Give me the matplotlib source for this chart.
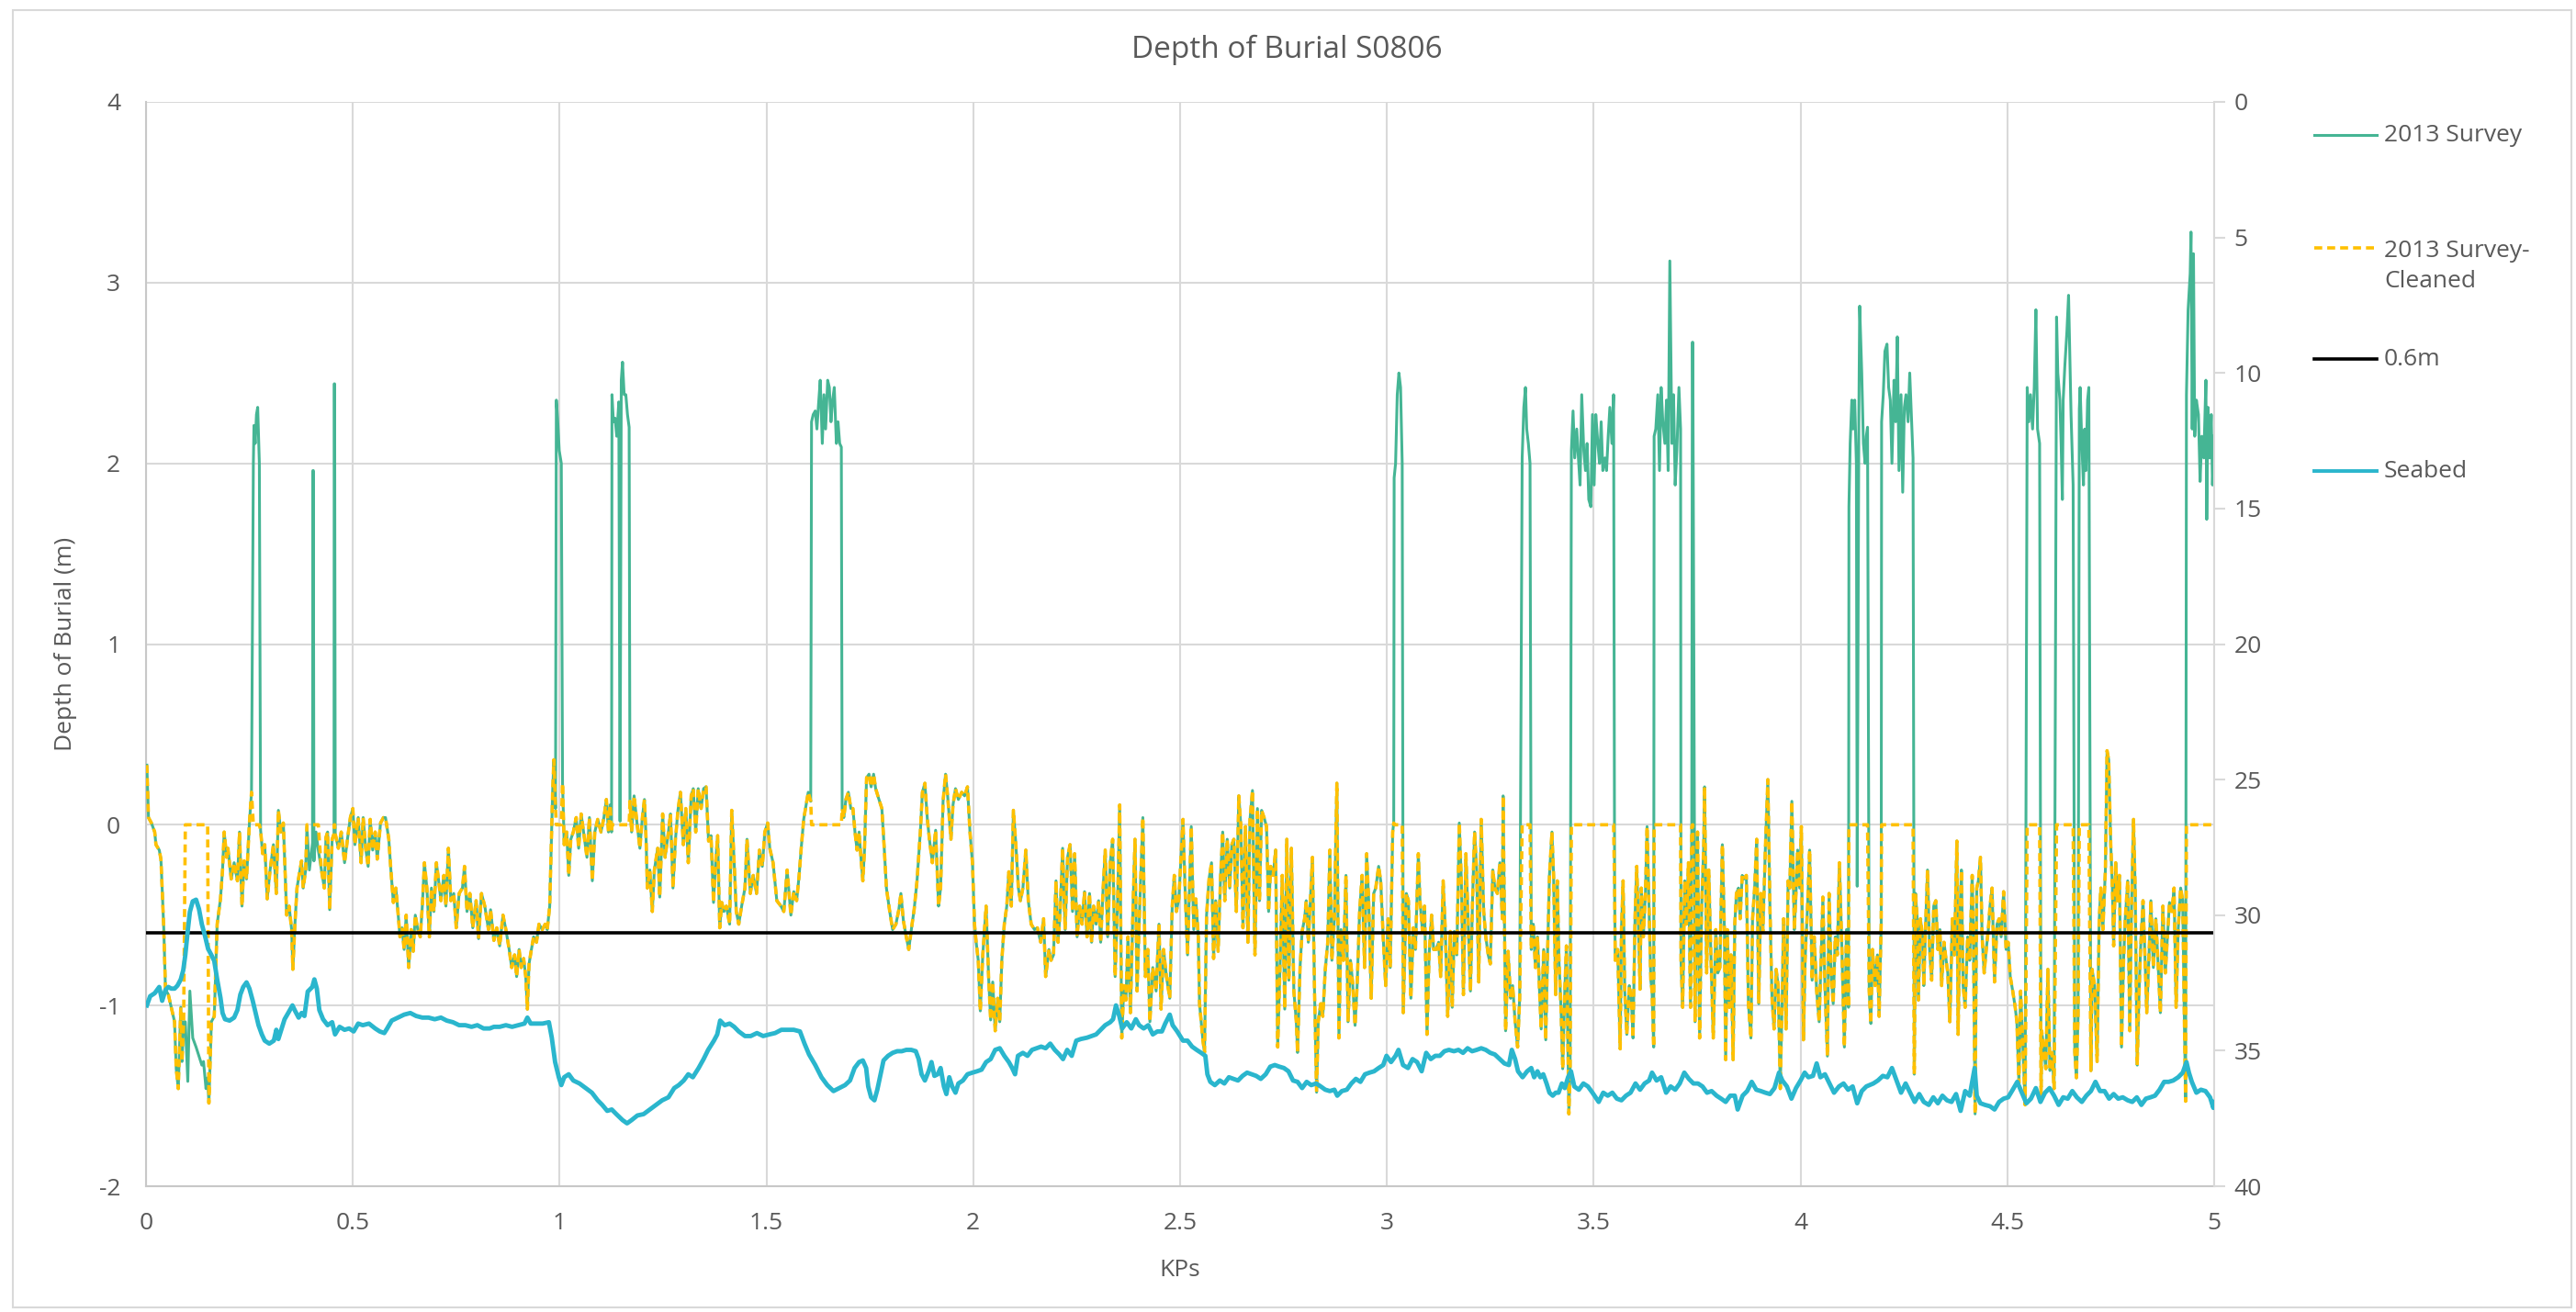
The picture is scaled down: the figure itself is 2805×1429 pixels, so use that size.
import numpy as np
import matplotlib.pyplot as plt
from matplotlib.lines import Line2D
from matplotlib.patches import Rectangle

plt.rcParams["font.family"] = ["Open Sans", "DejaVu Sans"]
plt.rcParams["axes.unicode_minus"] = False

TEXT = "#595959"
GRID = "#D9D9D9"
SURVEY = "#45B594"
CLEANED = "#FFC000"
SEABED = "#2AB6CD"

# depth of burial from the 2013 survey, (KP, m)
survey_km0 = [
    (0.002, 0.33), (0.006, 0.04), (0.013, 0.01), (0.021, -0.04), (0.024, -0.11), (0.032, -0.14),
    (0.036, -0.19), (0.039, -0.35), (0.043, -0.58), (0.047, -0.91), (0.054, -0.94), (0.061, -1.01),
    (0.069, -1.09), (0.073, -1.35), (0.078, -1.46), (0.084, -1.01), (0.087, -1.31), (0.091, -1.09),
    (0.095, -1.09), (0.101, -1.42), (0.106, -0.92), (0.113, -1.18), (0.121, -1.23), (0.128, -1.28),
    (0.135, -1.33), (0.139, -1.31), (0.145, -1.46), (0.149, -1.40), (0.152, -1.54), (0.158, -1.09),
    (0.165, -1.06), (0.172, -0.55), (0.180, -0.41), (0.185, -0.25), (0.189, -0.04), (0.195, -0.18),
    (0.198, -0.13), (0.206, -0.30), (0.213, -0.21), (0.221, -0.31), (0.226, -0.04), (0.232, -0.45),
    (0.237, -0.20), (0.243, -0.30), (0.250, 0.01), (0.255, 0.18),
    (0.2595, 2.00), (0.261, 2.21), (0.264, 2.11), (0.267, 2.27), (0.270, 2.31), (0.274, 2.00),
    (0.277, -0.03), (0.282, -0.16), (0.287, -0.11), (0.293, -0.41), (0.300, -0.25), (0.308, -0.11),
    (0.315, -0.38), (0.320, 0.08), (0.326, -0.04), (0.332, 0.01), (0.335, -0.18), (0.340, -0.50),
    (0.346, -0.45), (0.352, -0.58), (0.355, -0.80), (0.360, -0.55), (0.365, -0.35), (0.370, -0.28),
    (0.376, -0.20), (0.380, -0.35), (0.386, -0.25),
    (0.389, -0.01), (0.395, -0.25), (0.4025, -0.10), (0.4035, 1.96), (0.4045, 1.96), (0.406, -0.20),
    (0.411, -0.04), (0.4165, -0.14),
    (0.424, -0.25), (0.431, -0.35), (0.435, -0.07), (0.439, -0.04), (0.444, -0.47), (0.450, -0.08),
    (0.4545, -0.05), (0.455, 2.44), (0.456, 2.44), (0.4575, -0.05),
    (0.465, -0.13), (0.472, -0.04), (0.480, -0.21), (0.487, -0.08), (0.494, 0.04), (0.500, 0.09),
    (0.505, -0.11), (0.513, 0.04), (0.520, -0.21), (0.525, 0.04), (0.531, -0.13), (0.537, -0.23),
    (0.542, 0.03), (0.548, -0.14), (0.554, -0.04), (0.559, -0.19), (0.567, 0.01), (0.574, 0.04),
    (0.579, 0.04), (0.587, -0.08), (0.592, -0.25), (0.598, -0.43), (0.604, -0.35), (0.609, -0.48),
    (0.614, -0.62), (0.619, -0.57), (0.624, -0.69), (0.629, -0.50), (0.635, -0.79), (0.641, -0.58),
    (0.646, -0.70), (0.651, -0.50), (0.657, -0.58), (0.663, -0.62), (0.668, -0.45), (0.673, -0.21),
    (0.679, -0.35), (0.685, -0.62), (0.690, -0.35), (0.696, -0.48), (0.702, -0.21), (0.707, -0.30),
    (0.713, -0.42), (0.720, -0.28), (0.725, -0.45), (0.731, -0.13), (0.737, -0.42), (0.744, -0.38),
    (0.750, -0.57), (0.757, -0.38), (0.765, -0.35), (0.770, -0.23), (0.776, -0.48), (0.783, -0.38),
    (0.790, -0.57), (0.798, -0.42), (0.804, -0.63), (0.811, -0.38), (0.819, -0.45), (0.828, -0.58),
    (0.833, -0.47), (0.841, -0.64), (0.848, -0.57), (0.855, -0.67), (0.863, -0.50), (0.870, -0.58),
    (0.878, -0.69), (0.884, -0.79), (0.891, -0.72), (0.896, -0.84), (0.902, -0.69), (0.907, -0.79),
    (0.913, -0.74), (0.918, -0.84), (0.922, -1.02), (0.926, -0.77), (0.931, -0.70), (0.937, -0.62),
    (0.944, -0.65), (0.950, -0.55), (0.958, -0.58), (0.965, -0.55), (0.970, -0.58), (0.976, -0.45),
    (0.980, -0.08), (0.983, 0.18), (0.986, 0.36), (0.990, 0.09),
]
survey_km1 = [
    (0.992, 2.35), (0.995, 2.25), (0.999, 2.07), (1.004, 2.00),
    (1.007, 0.23), (1.011, -0.11), (1.017, -0.04), (1.022, -0.28), (1.027, -0.08), (1.033, -0.04),
    (1.040, 0.04), (1.046, -0.13), (1.052, 0.06), (1.059, -0.06), (1.066, -0.18), (1.072, 0.04),
    (1.079, -0.31), (1.085, -0.04), (1.092, 0.03), (1.100, -0.04), (1.107, 0.04), (1.113, 0.14),
    (1.118, -0.04), (1.122, 0.11), (1.1255, -0.04),
    (1.1265, 2.38), (1.130, 2.23), (1.134, 2.25), (1.138, 2.15), (1.143, 2.34), (1.146, 0.02),
    (1.149, 2.46), (1.152, 2.56), (1.156, 2.38), (1.160, 2.38), (1.164, 2.27), (1.168, 2.20),
    (1.170, 0.13), (1.174, -0.04), (1.180, 0.16), (1.187, 0.01), (1.194, -0.13), (1.200, 0.04),
    (1.205, 0.14), (1.209, -0.08), (1.212, -0.35), (1.218, -0.25), (1.224, -0.48), (1.229, -0.25),
    (1.237, -0.13), (1.242, -0.40), (1.249, 0.06), (1.255, -0.18), (1.263, -0.04), (1.268, 0.06),
    (1.274, -0.35), (1.280, -0.08), (1.286, 0.08), (1.292, 0.18), (1.299, -0.11), (1.305, 0.09),
    (1.311, -0.21), (1.318, 0.16), (1.323, 0.20), (1.329, -0.04), (1.335, 0.20), (1.342, 0.09),
    (1.348, 0.20), (1.354, 0.21), (1.360, -0.09), (1.366, -0.06), (1.372, -0.43), (1.377, -0.21),
    (1.382, -0.06), (1.387, -0.57), (1.392, -0.43), (1.397, -0.48), (1.403, -0.45), (1.411, -0.55),
    (1.416, 0.08), (1.422, -0.21), (1.427, -0.48), (1.433, -0.55), (1.440, -0.45), (1.448, -0.35),
    (1.453, -0.08), (1.461, -0.38), (1.468, -0.28), (1.476, -0.38), (1.483, -0.14), (1.490, -0.23),
    (1.496, -0.04), (1.503, 0.01), (1.508, -0.13), (1.516, -0.21), (1.525, -0.42), (1.535, -0.45),
    (1.542, -0.48), (1.550, -0.25), (1.559, -0.50), (1.566, -0.37), (1.573, -0.42), (1.579, -0.28),
    (1.584, -0.13), (1.590, 0.03), (1.596, 0.11), (1.601, 0.18), (1.607, 0.13),
    (1.609, 2.23), (1.613, 2.27), (1.618, 2.29), (1.622, 2.19), (1.626, 2.33), (1.630, 2.46),
    (1.635, 2.11), (1.639, 2.38), (1.643, 2.19), (1.648, 2.46), (1.652, 2.42), (1.656, 2.23),
    (1.660, 2.35), (1.664, 2.42), (1.669, 2.11), (1.673, 2.23), (1.677, 2.11), (1.681, 2.09),
    (1.683, 0.09), (1.687, 0.04), (1.692, 0.14), (1.698, 0.18), (1.704, 0.09), (1.709, 0.09),
    (1.714, -0.04), (1.719, -0.14), (1.724, -0.04), (1.729, -0.20), (1.733, -0.31), (1.737, -0.14),
    (1.742, 0.26), (1.748, 0.28), (1.753, 0.21), (1.759, 0.28), (1.764, 0.20), (1.772, 0.14),
    (1.779, 0.09), (1.785, -0.14), (1.790, -0.35), (1.798, -0.48), (1.805, -0.58), (1.813, -0.55),
    (1.820, -0.47), (1.825, -0.38), (1.831, -0.53), (1.838, -0.62), (1.844, -0.69), (1.852, -0.55),
    (1.857, -0.47), (1.864, -0.31), (1.872, -0.04), (1.877, 0.18), (1.883, 0.23), (1.889, 0.03),
    (1.894, -0.08), (1.901, -0.21), (1.909, -0.03), (1.916, -0.45), (1.921, -0.35), (1.927, 0.13),
    (1.933, 0.28), (1.938, 0.16), (1.946, -0.08), (1.951, 0.11), (1.957, 0.20), (1.964, 0.14),
    (1.972, 0.18), (1.979, 0.16), (1.986, 0.21), (1.992, -0.04), (1.998, -0.21),
]
survey_km2 = [
    (2.003, -0.55), (2.007, -0.65), (2.012, -0.75), (2.017, -1.03), (2.023, -0.72), (2.031, -0.45),
    (2.037, -0.84), (2.042, -1.08), (2.047, -0.87), (2.053, -1.14), (2.059, -0.96), (2.064, -1.09),
    (2.069, -0.75), (2.075, -0.55), (2.081, -0.45), (2.086, -0.26), (2.092, -0.45), (2.097, 0.08),
    (2.103, -0.11), (2.109, -0.35), (2.114, -0.42), (2.120, -0.35), (2.127, -0.14), (2.133, -0.42),
    (2.140, -0.55), (2.148, -0.58), (2.155, -0.57), (2.163, -0.65), (2.170, -0.52), (2.175, -0.84),
    (2.183, -0.69), (2.188, -0.75), (2.194, -0.72), (2.200, -0.31), (2.205, -0.65), (2.210, -0.48),
    (2.216, -0.13), (2.222, -0.58), (2.228, -0.18), (2.234, -0.11), (2.240, -0.48), (2.245, -0.16),
    (2.251, -0.62), (2.257, -0.45), (2.263, -0.55), (2.269, -0.37), (2.275, -0.62), (2.281, -0.38),
    (2.286, -0.65), (2.291, -0.45), (2.297, -0.55), (2.303, -0.42), (2.308, -0.65), (2.314, -0.35),
    (2.319, -0.14), (2.325, -0.62), (2.331, -0.21), (2.337, -0.08), (2.343, -0.84), (2.349, -0.42),
    (2.354, 0.11), (2.359, -1.18), (2.364, -0.89), (2.369, -0.97), (2.374, -0.62), (2.380, -1.04),
    (2.386, -0.47), (2.391, -0.08), (2.396, -0.92), (2.402, -0.48), (2.410, 0.04), (2.416, -0.84),
    (2.422, -0.69), (2.427, -1.09), (2.434, -0.79), (2.442, -0.92), (2.449, -0.55), (2.454, -1.02),
    (2.460, -0.69), (2.467, -0.84), (2.475, -0.96), (2.481, -0.45), (2.486, -0.28), (2.491, -0.48),
    (2.497, -0.41), (2.507, 0.03), (2.512, -0.35), (2.518, -0.72), (2.524, -0.25), (2.527, -0.01),
    (2.533, -0.58), (2.538, -0.41), (2.544, -0.62), (2.547, -0.99), (2.555, -1.19), (2.559, -1.26),
    (2.564, -0.50), (2.570, -0.30), (2.576, -0.21), (2.581, -0.74), (2.586, -0.42), (2.592, -0.70),
    (2.598, -0.28), (2.603, -0.04), (2.608, -0.42), (2.614, -0.08), (2.620, -0.35), (2.625, -0.11),
    (2.630, -0.08), (2.636, -0.48), (2.642, 0.16), (2.647, -0.01), (2.652, -0.57), (2.658, -0.01),
    (2.664, -0.65), (2.669, 0.03), (2.675, 0.19), (2.681, -0.72), (2.687, 0.09), (2.692, -0.42),
    (2.697, 0.08), (2.703, 0.04), (2.709, -0.01), (2.714, -0.48), (2.719, -0.23), (2.725, -0.28),
    (2.731, -0.14), (2.736, -1.23), (2.742, -0.75), (2.747, -0.28), (2.753, -1.02), (2.758, -0.08),
    (2.763, -0.86), (2.769, -0.13), (2.775, -0.92), (2.781, -1.09), (2.784, -1.26), (2.790, -0.79),
    (2.795, -0.59), (2.801, -0.52), (2.805, -0.42), (2.810, -0.65), (2.815, -0.42), (2.820, -0.18),
    (2.825, -0.92), (2.830, -1.48), (2.834, -1.09), (2.840, -0.99), (2.845, -1.06), (2.851, -0.80),
    (2.857, -0.65), (2.862, -0.14), (2.867, -0.75), (2.873, -0.52), (2.879, 0.23), (2.884, -1.18),
    (2.889, -0.58), (2.895, -0.75), (2.901, -0.28), (2.906, -1.09), (2.912, -0.75), (2.917, -0.87),
    (2.923, -1.11), (2.928, -0.89), (2.934, -0.48), (2.940, -0.28), (2.946, -0.79), (2.951, -0.16),
    (2.956, -0.42), (2.962, -0.96), (2.968, -0.38), (2.973, -0.35), (2.980, -0.23), (2.985, -0.31),
    (2.991, -0.62), (2.997, -0.89),
]
survey_km3 = [
    (3.003, -0.52), (3.008, -0.79), (3.014, -0.04), (3.0165, 0.01),
    (3.0175, 1.92), (3.021, 2.00), (3.025, 2.38), (3.029, 2.50), (3.033, 2.42), (3.037, 2.00),
    (3.0395, -1.04), (3.047, -0.38), (3.052, -0.42), (3.058, -0.96), (3.064, -0.57), (3.069, -0.69),
    (3.076, -0.16), (3.080, -0.42), (3.086, -0.59), (3.091, -0.45), (3.097, -1.16), (3.102, -0.72),
    (3.108, -0.50), (3.113, -0.69), (3.119, -0.69), (3.125, -0.65), (3.130, -0.84), (3.136, -0.31),
    (3.141, -0.57), (3.147, -1.06), (3.153, -0.59), (3.158, -1.01), (3.163, -0.59), (3.169, -0.72),
    (3.175, 0.01), (3.180, -0.31), (3.185, -0.94), (3.191, -0.16), (3.197, -0.58), (3.202, -0.92),
    (3.207, -0.42), (3.212, -0.04), (3.217, -0.25), (3.222, -0.87), (3.228, 0.03), (3.234, -0.48),
    (3.239, -0.62), (3.245, -0.72), (3.250, -0.77), (3.256, -0.25), (3.261, -0.35), (3.267, -0.38),
    (3.273, -0.21), (3.279, -0.52), (3.281, 0.16), (3.287, -1.14), (3.293, -0.70), (3.299, -0.96),
    (3.304, -0.89), (3.310, -1.09), (3.316, -1.23), (3.321, -0.96),
    (3.327, 2.03), (3.331, 2.31), (3.335, 2.42), (3.338, 2.19), (3.342, 2.11), (3.346, 2.00),
    (3.349, -0.69), (3.354, -0.55), (3.359, -0.79), (3.364, -0.62), (3.369, -0.92), (3.373, -1.13),
    (3.379, -0.69), (3.384, -1.19), (3.388, -0.75), (3.393, -0.28), (3.399, -0.04), (3.403, -0.28),
    (3.408, -0.94), (3.412, -0.31), (3.416, -0.75), (3.421, -1.02), (3.425, -1.35), (3.430, -0.92),
    (3.434, -0.67), (3.440, -1.60), (3.443, -1.35),
    (3.446, 2.07), (3.450, 2.29), (3.454, 2.03), (3.459, 2.19), (3.463, 2.03), (3.467, 1.88),
    (3.471, 2.38), (3.476, 2.07), (3.480, 1.96), (3.484, 2.11), (3.488, 1.80), (3.493, 1.76),
    (3.497, 2.27), (3.501, 1.88), (3.505, 2.27), (3.510, 2.11), (3.514, 2.00), (3.518, 2.23),
    (3.522, 1.96), (3.527, 2.03), (3.531, 1.96), (3.535, 2.15), (3.539, 2.31), (3.544, 2.11),
    (3.548, 2.38),
    (3.5505, -0.35), (3.552, -0.75), (3.558, -0.69), (3.564, -1.24), (3.567, -0.58), (3.571, -0.31),
    (3.575, -0.92), (3.580, -1.16), (3.586, -0.89), (3.591, -0.96), (3.595, -1.18), (3.600, -0.50),
    (3.604, -0.23), (3.608, -0.55), (3.612, -0.91), (3.615, -0.35), (3.620, -0.62), (3.625, -0.38),
    (3.629, -0.01), (3.634, -0.48), (3.638, -0.86), (3.641, -0.92), (3.645, -1.23),
    (3.646, 2.15), (3.650, 2.19), (3.655, 2.38), (3.659, 1.96), (3.663, 2.42), (3.667, 2.23),
    (3.672, 2.11), (3.676, 2.35), (3.680, 1.96), (3.684, 3.12), (3.689, 2.11), (3.693, 2.38),
    (3.697, 1.88), (3.701, 2.07), (3.706, 2.42), (3.710, 2.19),
    (3.711, -0.75), (3.715, -1.01), (3.720, -0.31), (3.724, -0.55), (3.729, -0.21), (3.734, -1.01),
    (3.737, -0.01), (3.7385, 2.67), (3.7395, 2.67), (3.745, -1.09), (3.751, -0.04), (3.756, -1.18),
    (3.761, -0.45), (3.766, -0.11), (3.768, 0.21), (3.773, -0.82), (3.778, -0.25), (3.783, -0.69),
    (3.789, -1.18), (3.795, -0.58), (3.800, -0.82), (3.805, -0.79), (3.811, -0.11), (3.816, -0.58),
    (3.819, -1.30), (3.823, -0.58), (3.828, -1.01), (3.832, -0.72), (3.837, -1.30), (3.841, -0.55),
    (3.845, -0.38), (3.850, -0.35), (3.854, -0.52), (3.859, -0.28), (3.863, -0.30), (3.869, -0.28),
    (3.874, -0.99), (3.880, -1.18), (3.884, -0.52), (3.889, -0.35), (3.894, -0.08), (3.899, -0.99),
    (3.904, -0.38), (3.909, -0.59), (3.915, -0.13), (3.921, 0.25), (3.926, -0.45), (3.931, -0.96),
    (3.936, -1.13), (3.941, -0.80), (3.946, -0.89), (3.951, -1.46), (3.956, -0.92), (3.959, -0.52),
    (3.965, -1.13), (3.970, -0.31), (3.974, -0.35), (3.979, 0.13), (3.985, -0.58), (3.989, -0.38),
    (3.993, -0.14), (3.998, -0.35),
]
survey_km4 = [
    (4.002, -0.01), (4.007, -1.19), (4.011, -0.75), (4.017, -0.45), (4.022, -0.14), (4.028, -0.86),
    (4.033, -0.62), (4.039, -0.92), (4.045, -1.09), (4.050, -0.72), (4.054, -0.40), (4.059, -0.89),
    (4.065, -1.28), (4.069, -0.38), (4.074, -0.82), (4.079, -0.99), (4.084, -0.62), (4.089, -0.72),
    (4.094, -0.21), (4.100, -0.69), (4.106, -1.23), (4.111, -0.58), (4.116, -1.01),
    (4.117, 1.76), (4.120, 2.11), (4.124, 2.35), (4.127, 2.19), (4.131, 2.35), (4.135, 2.00),
    (4.137, -0.34), (4.141, 2.27), (4.143, 2.87), (4.148, 2.50), (4.152, 2.11), (4.156, 2.00),
    (4.159, 2.15), (4.162, 2.20),
    (4.166, -0.92), (4.170, -1.10), (4.174, -0.69), (4.180, -0.89), (4.186, -0.72), (4.190, -1.06),
    (4.195, -0.55),
    (4.196, 2.23), (4.200, 2.38), (4.204, 2.62), (4.209, 2.66), (4.213, 2.42), (4.217, 2.35),
    (4.221, 2.00), (4.226, 2.46), (4.230, 2.23), (4.234, 2.70), (4.238, 1.96), (4.243, 2.38),
    (4.247, 1.84), (4.251, 2.31), (4.255, 2.38), (4.260, 2.23), (4.264, 2.50), (4.268, 2.27),
    (4.272, 2.03),
    (4.275, -1.38), (4.278, -0.38), (4.282, -0.52), (4.285, -0.97), (4.290, -0.52), (4.295, -0.62),
    (4.298, -0.89), (4.302, -0.58), (4.307, -0.25), (4.312, -0.69), (4.317, -0.86), (4.322, -0.45),
    (4.327, -0.42), (4.332, -0.69), (4.337, -0.58), (4.341, -0.89), (4.347, -0.65), (4.352, -0.75),
    (4.356, -0.82), (4.361, -1.09), (4.367, -0.52), (4.372, -0.72), (4.378, -0.09), (4.381, -1.16),
    (4.386, -0.45), (4.389, -0.25), (4.393, -0.89), (4.398, -1.01), (4.404, -0.62), (4.409, -0.75),
    (4.415, -0.28), (4.418, -0.62), (4.422, -1.60), (4.426, -0.35), (4.430, -0.31), (4.435, -0.18),
    (4.439, -0.62), (4.444, -0.82), (4.449, -0.69), (4.454, -0.58), (4.458, -0.45), (4.463, -0.35),
    (4.469, -0.87), (4.475, -0.55), (4.480, -0.52), (4.485, -0.62), (4.491, -0.37), (4.497, -0.69),
    (4.502, -0.65), (4.507, -0.84), (4.513, -0.92), (4.519, -1.01), (4.523, -1.09), (4.528, -1.43),
    (4.532, -0.92), (4.537, -1.19), (4.543, -1.55),
    (4.548, 2.42), (4.552, 2.23), (4.556, 2.38), (4.561, 2.19), (4.565, 2.42), (4.569, 2.85),
    (4.573, 2.19), (4.578, 2.11),
    (4.5815, -1.52), (4.583, -1.14), (4.589, -1.26), (4.593, -1.35), (4.598, -0.80), (4.603, -1.36),
    (4.608, -1.26), (4.613, -1.46),
    (4.619, 2.81), (4.622, 2.50), (4.627, 2.35), (4.630, 2.11), (4.633, 1.80), (4.635, 2.35),
    (4.639, 2.54), (4.644, 2.73), (4.648, 2.93), (4.652, 2.50), (4.654, 2.27), (4.659, 1.88),
    (4.663, -1.26), (4.667, -1.40), (4.671, -1.06),
    (4.674, 2.30), (4.676, 2.42), (4.680, 2.11), (4.684, 1.88), (4.687, 2.19), (4.690, 1.96),
    (4.694, 2.35), (4.697, 2.42),
    (4.702, -1.36), (4.705, -0.80), (4.711, -0.89), (4.717, -1.31), (4.722, -0.53), (4.726, -0.35),
    (4.731, -0.58), (4.737, -0.25), (4.741, 0.41), (4.745, 0.36), (4.750, -0.11), (4.754, -0.35),
    (4.757, -0.67), (4.762, -0.21), (4.766, -0.42), (4.771, -0.28), (4.776, -1.23), (4.781, -0.75),
    (4.785, -0.52), (4.791, -0.31), (4.796, -1.14), (4.800, -0.48), (4.805, 0.03), (4.809, -0.35),
    (4.814, -1.33), (4.818, -0.96), (4.822, -0.69), (4.828, -0.42), (4.833, -0.75), (4.837, -1.04),
    (4.842, -0.75), (4.847, -0.42), (4.853, -0.79), (4.859, -0.52), (4.864, -0.75), (4.870, -1.04),
    (4.876, -0.45), (4.882, -0.82), (4.887, -0.62), (4.892, -0.43), (4.898, -0.48), (4.903, -0.35),
    (4.908, -1.01), (4.913, -0.58), (4.919, -0.35), (4.924, -0.42), (4.928, -1.09), (4.931, -1.53),
    (4.933, 2.38), (4.937, 2.85), (4.942, 3.05), (4.944, 3.28), (4.947, 2.19), (4.950, 3.16),
    (4.953, 2.15), (4.957, 2.35), (4.962, 2.27), (4.966, 1.90), (4.970, 2.15), (4.975, 2.03),
    (4.980, 2.46), (4.982, 1.69), (4.985, 2.31), (4.989, 2.03), (4.993, 2.27), (4.996, 1.88),
    (5.000, 2.15),
]

# KP stretches removed from the cleaned series (reported as 0 m)
cleaned_gaps = [
    (0.094, 0.1515), (0.259, 0.275), (0.3875, 0.4205), (0.4548, 0.4568), (0.9915, 1.005),
    (1.126, 1.169), (1.608, 1.682), (3.017, 3.038), (3.3265, 3.347), (3.4445, 3.549),
    (3.6455, 3.7105), (3.738, 3.741), (4.1165, 4.163), (4.1955, 4.273), (4.547, 4.579),
    (4.618, 4.660), (4.673, 4.698), (4.932, 5.01),
]

# seabed depth along the route, (KP, m) on the secondary axis
seabed_km0 = [
    (0.002, 33.33), (0.010, 32.99), (0.021, 32.88), (0.032, 32.65), (0.039, 33.16), (0.047, 32.76),
    (0.054, 32.65), (0.061, 32.71), (0.069, 32.71), (0.076, 32.60), (0.084, 32.37), (0.090, 32.03),
    (0.095, 31.47), (0.101, 30.56), (0.106, 29.88), (0.113, 29.49), (0.121, 29.43), (0.128, 29.77),
    (0.135, 30.34), (0.143, 30.79), (0.150, 31.24), (0.158, 31.47), (0.165, 31.69), (0.172, 32.37),
    (0.180, 33.05), (0.185, 33.61), (0.191, 33.84), (0.202, 33.89), (0.213, 33.78), (0.221, 33.50),
    (0.228, 32.93), (0.235, 32.65), (0.243, 32.48), (0.250, 32.71), (0.258, 33.16), (0.265, 33.61),
    (0.272, 34.06), (0.280, 34.40), (0.287, 34.63), (0.298, 34.74), (0.309, 34.63), (0.315, 34.23),
    (0.320, 34.57), (0.328, 34.18), (0.335, 33.84), (0.346, 33.55), (0.354, 33.33), (0.361, 33.55),
    (0.369, 33.78), (0.376, 33.61), (0.383, 33.72), (0.391, 32.82), (0.402, 32.65), (0.407, 32.37),
    (0.413, 32.71), (0.419, 33.50), (0.428, 33.84), (0.439, 34.06), (0.450, 33.95), (0.457, 34.40),
    (0.468, 34.12), (0.480, 34.23), (0.491, 34.18), (0.502, 34.29), (0.513, 34.00), (0.524, 34.06),
    (0.539, 34.00), (0.554, 34.18), (0.565, 34.29), (0.576, 34.35), (0.583, 34.18), (0.594, 33.89),
    (0.609, 33.78), (0.624, 33.67), (0.639, 33.61), (0.653, 33.72), (0.668, 33.78), (0.683, 33.78),
    (0.698, 33.84), (0.713, 33.78), (0.727, 33.89), (0.742, 33.95), (0.757, 34.06), (0.772, 34.06),
    (0.787, 34.12), (0.801, 34.06), (0.816, 34.18), (0.831, 34.18), (0.841, 34.12), (0.855, 34.12),
    (0.870, 34.06), (0.885, 34.12), (0.900, 34.06), (0.915, 34.00), (0.922, 33.78), (0.930, 34.00),
    (0.944, 34.00), (0.959, 34.00), (0.974, 33.95), (0.981, 34.52), (0.989, 35.42), (0.998, 35.98),
]
seabed_km1 = [
    (1.004, 36.27), (1.011, 35.98), (1.022, 35.87), (1.033, 36.10), (1.048, 36.21), (1.063, 36.38),
    (1.078, 36.55), (1.092, 36.83), (1.103, 37.00), (1.115, 37.22), (1.126, 37.17), (1.137, 37.34),
    (1.152, 37.56), (1.163, 37.68), (1.174, 37.56), (1.188, 37.39), (1.203, 37.34), (1.218, 37.17),
    (1.233, 37.00), (1.248, 36.83), (1.263, 36.72), (1.277, 36.38), (1.288, 36.27), (1.300, 36.10),
    (1.311, 35.87), (1.322, 35.98), (1.336, 35.64), (1.348, 35.31), (1.359, 34.97), (1.373, 34.63),
    (1.381, 34.40), (1.388, 33.89), (1.399, 34.06), (1.411, 34.00), (1.422, 34.12), (1.433, 34.29),
    (1.448, 34.46), (1.462, 34.46), (1.477, 34.35), (1.492, 34.46), (1.507, 34.40), (1.521, 34.35),
    (1.536, 34.23), (1.551, 34.23), (1.566, 34.23), (1.581, 34.29), (1.592, 34.74), (1.603, 35.14),
    (1.618, 35.53), (1.633, 35.98), (1.647, 36.27), (1.662, 36.49), (1.676, 36.38), (1.690, 36.27),
    (1.702, 36.10), (1.713, 35.64), (1.724, 35.42), (1.733, 35.36), (1.741, 35.64), (1.746, 36.32),
    (1.753, 36.72), (1.761, 36.83), (1.768, 36.44), (1.776, 35.87), (1.783, 35.36), (1.794, 35.19),
    (1.805, 35.08), (1.816, 35.02), (1.827, 35.02), (1.838, 34.97), (1.850, 34.97), (1.861, 35.02),
    (1.868, 35.31), (1.875, 35.87), (1.883, 36.10), (1.892, 35.76), (1.899, 35.42), (1.906, 35.93),
    (1.914, 35.87), (1.921, 35.64), (1.929, 36.32), (1.935, 36.60), (1.942, 35.98), (1.949, 36.32),
    (1.957, 36.55), (1.964, 36.21), (1.975, 36.10), (1.986, 35.87), (1.998, 35.81),
]
seabed_km2 = [
    (2.009, 35.76), (2.020, 35.70), (2.031, 35.42), (2.042, 35.31), (2.053, 34.97), (2.064, 34.91),
    (2.075, 35.19), (2.086, 35.42), (2.094, 35.64), (2.101, 35.87), (2.108, 35.19), (2.120, 35.08),
    (2.131, 35.19), (2.142, 34.97), (2.153, 34.91), (2.164, 34.85), (2.175, 34.91), (2.186, 34.74),
    (2.197, 34.97), (2.208, 35.14), (2.217, 35.31), (2.227, 34.97), (2.238, 35.19), (2.249, 34.63),
    (2.260, 34.57), (2.275, 34.52), (2.286, 34.46), (2.297, 34.40), (2.308, 34.23), (2.319, 34.06),
    (2.331, 33.95), (2.338, 33.84), (2.345, 33.33), (2.353, 33.72), (2.360, 34.18), (2.371, 33.95),
    (2.382, 34.18), (2.393, 33.84), (2.401, 34.06), (2.412, 34.18), (2.423, 34.06), (2.434, 34.40),
    (2.445, 34.29), (2.456, 34.29), (2.464, 34.00), (2.475, 33.67), (2.482, 34.06), (2.493, 34.29),
    (2.507, 34.63), (2.518, 34.63), (2.529, 34.85), (2.540, 34.97), (2.551, 35.08), (2.561, 35.19),
    (2.566, 35.87), (2.573, 36.15), (2.584, 36.27), (2.596, 36.10), (2.607, 36.21), (2.618, 35.98),
    (2.629, 36.04), (2.640, 36.10), (2.651, 35.93), (2.662, 35.81), (2.673, 35.87), (2.684, 35.93),
    (2.695, 36.04), (2.707, 35.87), (2.718, 35.59), (2.729, 35.53), (2.740, 35.59), (2.751, 35.64),
    (2.762, 35.76), (2.773, 36.10), (2.784, 36.15), (2.795, 36.38), (2.806, 36.15), (2.817, 36.27),
    (2.829, 36.21), (2.840, 36.32), (2.851, 36.44), (2.862, 36.49), (2.873, 36.44), (2.880, 36.66),
    (2.891, 36.49), (2.903, 36.44), (2.914, 36.21), (2.925, 36.04), (2.936, 36.15), (2.947, 35.87),
    (2.958, 35.81), (2.969, 35.76), (2.980, 35.64), (2.991, 35.53), (2.999, 35.19),
]
seabed_km3 = [
    (3.010, 35.42), (3.021, 35.19), (3.028, 34.97), (3.039, 35.53), (3.051, 35.64), (3.062, 35.31),
    (3.073, 35.42), (3.084, 35.76), (3.095, 35.08), (3.106, 35.31), (3.117, 35.19), (3.128, 35.19),
    (3.139, 35.02), (3.150, 34.97), (3.162, 35.02), (3.173, 34.97), (3.184, 35.08), (3.195, 34.91),
    (3.206, 35.02), (3.217, 34.97), (3.228, 34.91), (3.239, 34.97), (3.250, 35.08), (3.261, 35.14),
    (3.273, 35.31), (3.284, 35.47), (3.295, 35.53), (3.302, 34.97), (3.310, 35.31), (3.317, 35.76),
    (3.328, 35.98), (3.339, 35.76), (3.349, 35.64), (3.356, 35.98), (3.364, 35.76), (3.371, 35.98),
    (3.378, 35.87), (3.386, 36.21), (3.393, 36.55), (3.401, 36.66), (3.408, 36.55), (3.415, 36.55),
    (3.423, 36.21), (3.430, 36.38), (3.438, 35.98), (3.445, 35.76), (3.453, 36.32), (3.464, 36.44),
    (3.475, 36.21), (3.486, 36.32), (3.497, 36.55), (3.512, 36.89), (3.523, 36.55), (3.534, 36.66),
    (3.545, 36.55), (3.556, 36.77), (3.567, 36.83), (3.578, 36.66), (3.589, 36.55), (3.601, 36.21),
    (3.612, 36.44), (3.623, 36.21), (3.634, 36.10), (3.641, 35.81), (3.652, 36.10), (3.663, 35.98),
    (3.675, 36.55), (3.686, 36.32), (3.697, 36.44), (3.708, 36.21), (3.719, 35.81), (3.730, 36.04),
    (3.741, 36.21), (3.752, 36.21), (3.763, 36.32), (3.774, 36.55), (3.785, 36.49), (3.797, 36.66),
    (3.808, 36.77), (3.819, 36.89), (3.830, 36.66), (3.841, 36.66), (3.848, 37.17), (3.860, 36.66),
    (3.871, 36.49), (3.882, 36.15), (3.893, 36.44), (3.904, 36.49), (3.915, 36.55), (3.926, 36.60),
    (3.937, 36.38), (3.948, 35.81), (3.956, 36.10), (3.967, 36.32), (3.978, 36.77), (3.989, 36.38),
]
seabed_km4 = [
    (4.000, 36.10), (4.010, 35.81), (4.019, 35.98), (4.030, 35.93), (4.039, 35.47), (4.048, 35.98),
    (4.059, 35.87), (4.070, 36.21), (4.081, 36.55), (4.093, 36.32), (4.104, 36.21), (4.115, 36.44),
    (4.126, 36.32), (4.137, 36.94), (4.148, 36.49), (4.159, 36.32), (4.176, 36.21), (4.187, 36.10),
    (4.199, 35.93), (4.210, 35.98), (4.221, 35.64), (4.232, 36.10), (4.243, 36.55), (4.254, 36.21),
    (4.265, 36.55), (4.276, 36.89), (4.287, 36.60), (4.298, 36.89), (4.310, 37.00), (4.321, 36.72),
    (4.332, 36.94), (4.343, 36.66), (4.354, 36.83), (4.365, 36.89), (4.376, 36.60), (4.387, 37.22),
    (4.398, 36.49), (4.409, 36.66), (4.421, 35.64), (4.426, 36.66), (4.435, 36.94), (4.446, 37.00),
    (4.458, 37.05), (4.469, 37.17), (4.480, 36.89), (4.491, 36.77), (4.502, 36.72), (4.513, 36.44),
    (4.524, 36.15), (4.535, 36.55), (4.546, 36.94), (4.557, 36.77), (4.569, 36.38), (4.580, 36.89),
    (4.591, 36.55), (4.602, 36.38), (4.613, 36.66), (4.624, 37.00), (4.635, 36.72), (4.646, 36.77),
    (4.657, 36.49), (4.668, 36.72), (4.680, 36.89), (4.691, 36.66), (4.702, 36.49), (4.713, 36.15),
    (4.724, 36.49), (4.735, 36.49), (4.746, 36.77), (4.757, 36.60), (4.768, 36.77), (4.779, 36.72),
    (4.791, 36.83), (4.802, 36.89), (4.813, 36.72), (4.824, 37.00), (4.835, 36.77), (4.846, 36.72),
    (4.857, 36.66), (4.868, 36.44), (4.879, 36.15), (4.890, 36.15), (4.901, 36.10), (4.913, 35.98),
    (4.924, 35.81), (4.933, 35.42), (4.939, 35.81), (4.946, 36.15), (4.957, 36.55), (4.968, 36.44),
    (4.979, 36.49), (4.990, 36.72), (4.998, 37.11), (5.000, 36.89),
]

target_dob = -0.6

dob_ticks = [-2, -1, 0, 1, 2, 3, 4]
kp_ticks = [0, 0.5, 1, 1.5, 2, 2.5, 3, 3.5, 4, 4.5, 5]
kp_tick_labels = ["0", "0.5", "1", "1.5", "2", "2.5", "3", "3.5", "4", "4.5", "5"]
depth_ticks = [0, 5, 10, 15, 20, 25, 30, 35, 40]

legend_labels = ["2013 Survey", "2013 Survey-\nCleaned", "0.6m", "Seabed"]


def stack(*chunks):
    pts = np.array([p for chunk in chunks for p in chunk])
    return pts[:, 0], pts[:, 1]


kp, dob = stack(survey_km0, survey_km1, survey_km2, survey_km3, survey_km4)
removed = np.zeros(kp.shape, dtype=bool)
for lo, hi in cleaned_gaps:
    removed |= (kp >= lo) & (kp <= hi)
dob_cleaned = np.where(removed, 0.0, dob)

kp_sb, seabed = stack(seabed_km0, seabed_km1, seabed_km2, seabed_km3, seabed_km4)

W, H = 2805, 1429
FS = 19
fig = plt.figure(figsize=(W / 100, H / 100), dpi=100)
ax = fig.add_axes([159 / W, 1 - 1292 / H, (2411 - 159) / W, (1292 - 111) / H])

ax.plot(kp, dob, color=SURVEY, lw=2.2, zorder=3)
ax.plot(kp, dob_cleaned, color=CLEANED, lw=2.6, ls=(0, (2.4, 1.5)), zorder=4)
ax.plot([0, 5], [target_dob, target_dob], color="black", lw=2.6, zorder=5)

ax.set_xlim(0, 5)
ax.set_ylim(-2, 4)
ax.set_xticks(kp_ticks)
ax.set_xticklabels(kp_tick_labels)
ax.set_yticks(dob_ticks)
ax.set_yticklabels([str(t) for t in dob_ticks])
ax.grid(True, color=GRID, lw=1.5)
ax.set_axisbelow(True)
ax.tick_params(axis="both", length=0, labelsize=FS, labelcolor=TEXT)
ax.tick_params(axis="y", pad=20)
ax.tick_params(axis="x", pad=20)
for side in ["top", "right"]:
    ax.spines[side].set_visible(False)
for side in ["left", "bottom"]:
    ax.spines[side].set_color("#C8C8C8")
    ax.spines[side].set_linewidth(1.5)

ax2 = ax.twinx()
ax2.plot(kp_sb, seabed, color=SEABED, lw=3.5, zorder=6)
ax2.set_ylim(40, 0)
ax2.set_yticks(depth_ticks)
ax2.set_yticklabels([str(t) for t in depth_ticks])
ax2.tick_params(axis="y", length=8.5, width=1.5, color=GRID, pad=7, labelsize=FS, labelcolor=TEXT)
for side in ["top", "left", "bottom"]:
    ax2.spines[side].set_visible(False)
ax2.spines["right"].set_color(GRID)
ax2.spines["right"].set_linewidth(1.5)

fig.text(0.4996, 1 - 54 / H, "Depth of Burial S0806", ha="center", va="center",
         fontsize=24, color=TEXT)
fig.text(72 / W, 1 - 701 / H, "Depth of Burial (m)", rotation=90, ha="center", va="center",
         fontsize=FS, color=TEXT)
fig.text(1285 / W, 1 - 1383 / H, "KPs", ha="center", va="center", fontsize=FS, color=TEXT)

# legend drawn to the right of the plot area
styles = [
    dict(color=SURVEY, lw=2.2),
    dict(color=CLEANED, lw=2.6, ls=(0, (2.4, 1.5))),
    dict(color="black", lw=2.6),
    dict(color=SEABED, lw=2.8),
]
line_y = [147, 270, 391, 513]
text_y = [147, 290, 391, 513]
for label, style, ly, ty in zip(legend_labels, styles, line_y, text_y):
    fig.add_artist(Line2D([2520 / W, 2588 / W], [1 - ly / H, 1 - ly / H],
                          transform=fig.transFigure, **style))
    fig.text(2596 / W, 1 - ty / H, label, ha="left", va="center", fontsize=FS,
             color=TEXT, linespacing=1.45)

fig.add_artist(Rectangle((14 / W, 5 / H), (2800 - 14) / W, (1421 - 8) / H,
                         transform=fig.transFigure, fill=False, edgecolor=GRID, lw=1.5))

fig.savefig("out.png", dpi=100)
